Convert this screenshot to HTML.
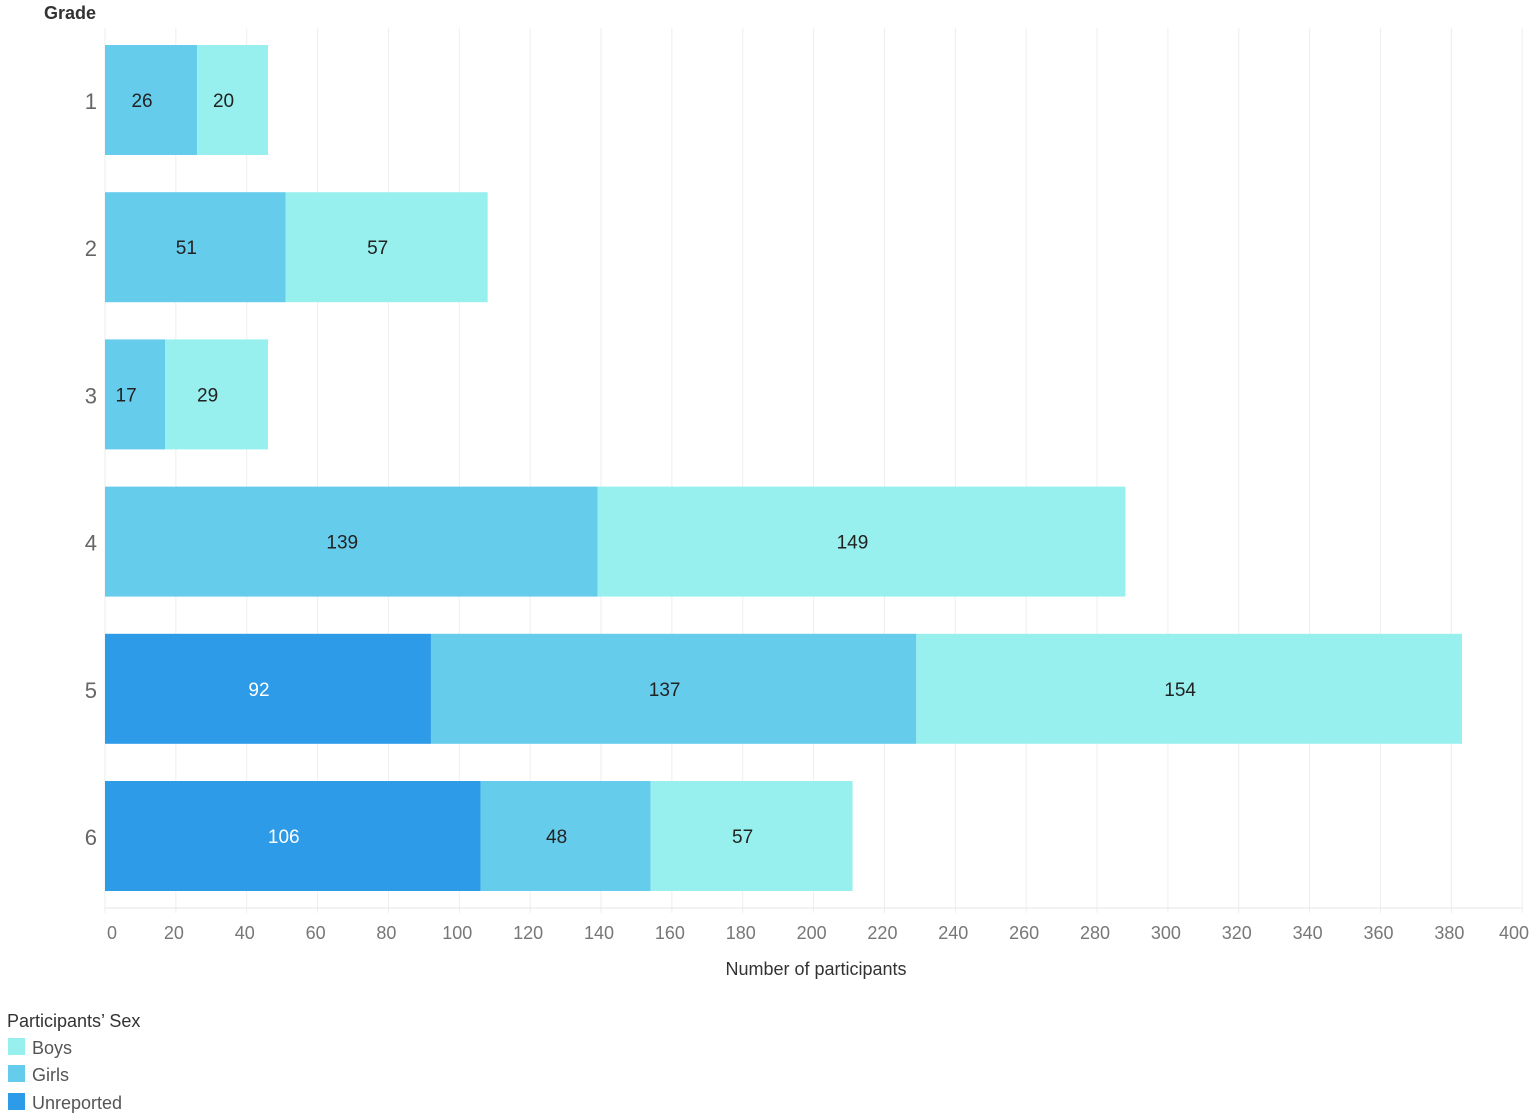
<!DOCTYPE html>
<html><head><meta charset="utf-8"><style>
body{margin:0;background:#fff;width:1535px;height:1119px;overflow:hidden}
svg{display:block;font-family:"Liberation Sans","DejaVu Sans",sans-serif}
</style></head><body>
<svg id="chart" width="1535" height="1119" viewBox="0 0 1535 1119">
<g id="grid"></g>
<g id="bars"></g>
<g id="yaxis"></g>
<g id="xaxis"></g>
<text x="44" y="19" font-size="18" font-weight="bold" fill="#333">Grade</text>
<text x="816" y="975" font-size="18" fill="#333" text-anchor="middle">Number of participants</text>
<g>
<text x="7" y="1027" font-size="18" fill="#333">Participants’ Sex</text>
<g><rect x="8" y="1038" width="17" height="17" fill="#97f0ee"/><text x="32" y="1054" font-size="18" fill="#555">Boys</text></g>
<g><rect x="8" y="1065" width="17" height="17" fill="#66ccec"/><text x="32" y="1081" font-size="18" fill="#555">Girls</text></g>
<g><rect x="8" y="1093" width="17" height="17" fill="#2d9be8"/><text x="32" y="1109" font-size="18" fill="#555">Unreported</text></g>
</g>
</svg>
<script>
const grades = ["1","2","3","4","5","6"];
const unreported = [0,0,0,0,92,106];
const girls = [26,51,17,139,137,48];
const boys = [20,57,29,149,154,57];
const xTicks = [0,20,40,60,80,100,120,140,160,180,200,220,240,260,280,300,320,340,360,380,400];
const NS="http://www.w3.org/2000/svg";
const x0=105, pxPer=3.543;
function xs(v){return x0+v*pxPer;}
function yTop(i){return 45+i*147.2;}
const barH=110;
function mk(tag,attrs,parent){const e=document.createElementNS(NS,tag);for(const k in attrs)e.setAttribute(k,attrs[k]);parent.appendChild(e);return e;}
const grid=document.getElementById('grid'),bars=document.getElementById('bars'),ya=document.getElementById('yaxis'),xa=document.getElementById('xaxis');
xTicks.forEach((t,i)=>{
  const l=mk('line',{x1:xs(t),x2:xs(t),y1:28,y2:913,stroke:'#eeeeee','stroke-width':1},grid);
  
  
  const last=i===xTicks.length-1;
  const tx=mk('text',{x:last?1529:xs(t)+(t===0?7:-2),y:939,'font-size':18,fill:'#777','text-anchor':last?'end':'middle'},xa);
  tx.textContent=t;
  
  
});
const base=mk('line',{x1:x0,x2:xs(400),y1:908,y2:908,stroke:'#e4e4e4'},xa);


const series=[["unreported",unreported,"#2d9be8","#fff"],["girls",girls,"#66ccec","#222"],["boys",boys,"#97f0ee","#222"]];
grades.forEach((g,i)=>{
  const y=yTop(i);let acc=0;
  series.forEach(([name,vals,col,tc])=>{
    const v=vals[i];if(!v)return;
    const r=mk('rect',{x:xs(acc),y:y,width:xs(acc+v)-xs(acc),height:barH,fill:col},bars);
    
    
    const t=mk('text',{x:(xs(acc)+xs(acc+v))/2-9,y:y+barH/2+7,'font-size':19,fill:tc,'text-anchor':'middle'},bars);
    t.textContent=v;
    
    
    acc+=v;
  });
  const gl=mk('text',{x:97,y:y+barH/2+9,'font-size':22,fill:'#666','text-anchor':'end'},ya);
  gl.textContent=g;
  
  
});
</script>
</body></html>
